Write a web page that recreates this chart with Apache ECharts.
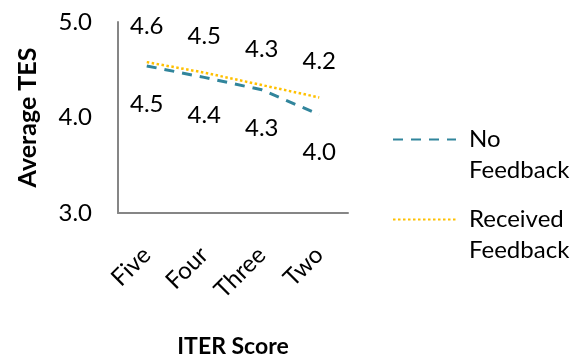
<!DOCTYPE html>
<html><head><meta charset="utf-8">
<script src="https://cdn.jsdelivr.net/npm/echarts@6/dist/echarts.min.js"></script>
<style>html,body{margin:0;padding:0;background:#fff}#c{width:574px;height:354px}</style>
</head><body><div id="c"></div>
<script>
const categories = ['Five', 'Four', 'Three', 'Two'];
const noFeedback = [4.54, 4.42, 4.29, 4.03];
const receivedFeedback = [4.58, 4.47, 4.34, 4.21];
const noFeedbackLabels = ['4.5', '4.4', '4.3', '4.0'];
const receivedLabels = ['4.6', '4.5', '4.3', '4.2'];
const yTicks = { min: 3, max: 5, interval: 1 };

const FONT = 'Lato, "Open Sans", sans-serif';
const FS = 24;
const chart = echarts.init(document.getElementById('c'), null, { renderer: 'canvas' });
chart.setOption({
  animation: false,
  backgroundColor: '#fff',
  textStyle: { fontFamily: FONT },
  grid: { left: 118, right: 226, top: 22, bottom: 141, containLabel: false, outerBoundsMode: 'none' },
  legend: {
    orient: 'vertical',
    left: 392,
    top: 93,
    padding: 0,
    itemWidth: 63,
    itemHeight: 14,
    itemGap: -13,
    itemStyle: { opacity: 0 },
    textStyle: {
      fontFamily: FONT, fontSize: FS, color: '#000', lineHeight: 31,
      rich: { t: { fontFamily: FONT, fontSize: FS, color: '#000', lineHeight: 31, padding: [0, 0, 0, 8] } }
    },
    formatter: function (n) { return ' \n' + n.split(' ').map(w => '{t|' + w + '}').join('\n'); },
    data: ['No Feedback', 'Received Feedback']
  },
  xAxis: {
    type: 'category',
    data: categories,
    boundaryGap: true,
    axisLine: { lineStyle: { color: '#868686', width: 2 } },
    axisTick: { show: false },
    axisLabel: { rotate: 45, margin: 38, fontSize: FS, color: '#000', fontFamily: FONT, interval: 0 },
    name: 'ITER Score',
    nameLocation: 'middle',
    nameGap: 122,
    nameTextStyle: { fontSize: 23, fontWeight: 'bold', color: '#000', fontFamily: FONT }
  },
  yAxis: {
    type: 'value',
    min: yTicks.min, max: yTicks.max, interval: yTicks.interval,
    splitLine: { show: false },
    axisLine: { show: true, lineStyle: { color: '#868686', width: 2 } },
    axisTick: { show: false },
    axisLabel: { margin: 26, fontSize: FS, color: '#000', fontFamily: FONT, formatter: v => v.toFixed(1) },
    name: 'Average TES',
    nameLocation: 'middle',
    nameGap: 78,
    nameTextStyle: { fontSize: 25, fontWeight: 'bold', color: '#000', fontFamily: FONT }
  },
  series: [
    {
      name: 'No Feedback',
      type: 'line',
      data: noFeedback,
      symbol: 'circle',
      symbolSize: 0,
      showSymbol: true,
      lineStyle: { color: '#31859C', width: 3, type: [10, 8] },
      itemStyle: { color: '#31859C' },
      label: {
        show: true, position: 'bottom', distance: 26,
        fontSize: FS, color: '#000', fontFamily: FONT,
        formatter: p => noFeedbackLabels[p.dataIndex]
      },
      labelLayout: { hideOverlap: false }
    },
    {
      name: 'Received Feedback',
      type: 'line',
      data: receivedFeedback,
      symbol: 'circle',
      symbolSize: 0,
      showSymbol: true,
      lineStyle: { color: '#FFC000', width: 2.5, type: [2.5, 2.5] },
      itemStyle: { color: '#FFC000' },
      label: {
        show: true, position: 'top', distance: 24,
        fontSize: FS, color: '#000', fontFamily: FONT,
        formatter: p => receivedLabels[p.dataIndex]
      },
      labelLayout: { hideOverlap: false }
    }
  ]
});
</script></body></html>
